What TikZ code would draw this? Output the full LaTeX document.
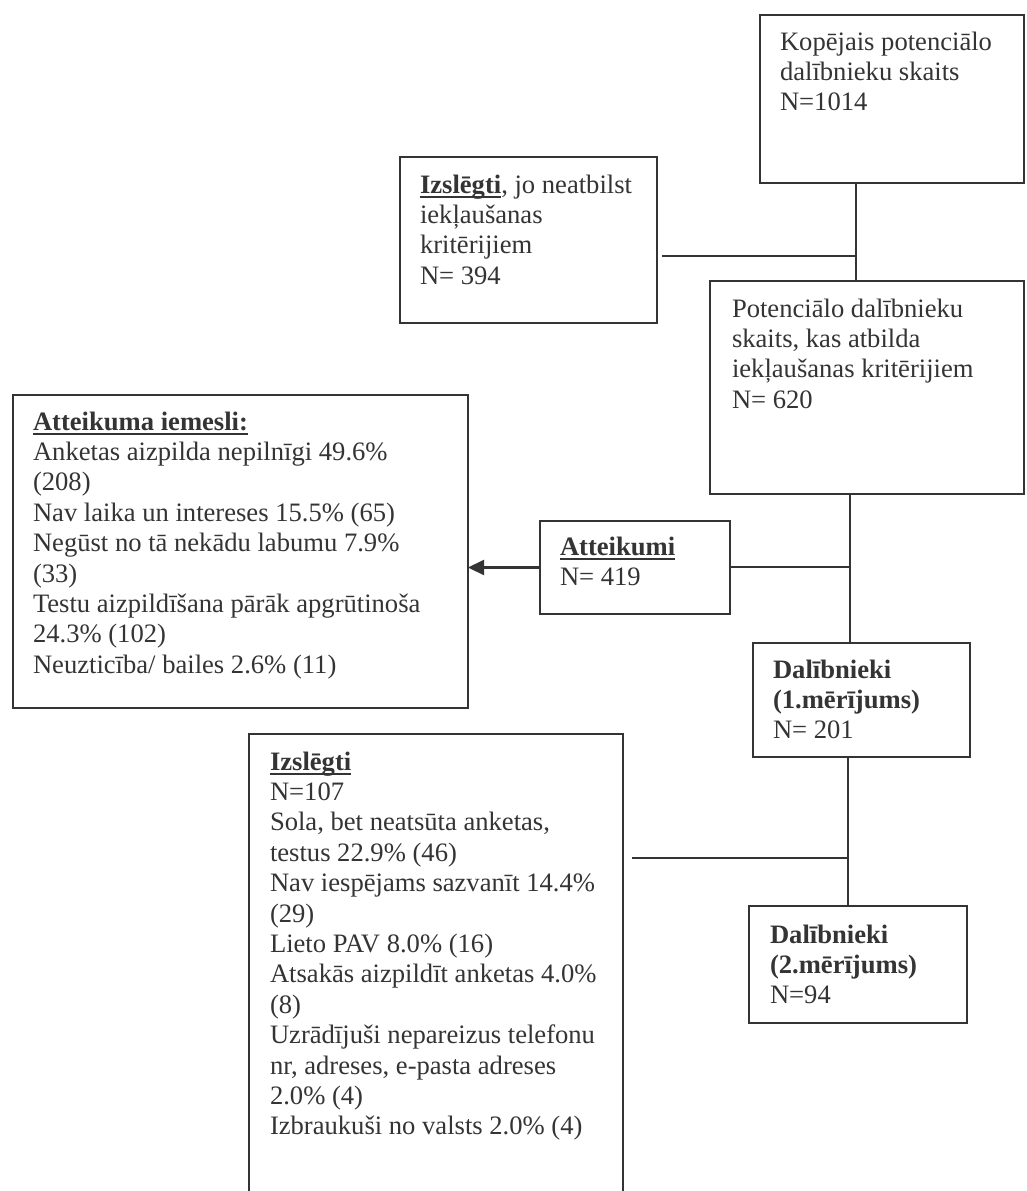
\documentclass[tikz,border=0pt]{standalone}
\usepackage{fontspec}
\setmainfont{Liberation Serif}
\usetikzlibrary{arrows.meta}
\definecolor{ink}{RGB}{52,52,52}
\newsavebox\undrbox
% underline sitting just below the baseline
\newcommand\undr[1]{\leavevmode\sbox\undrbox{#1}\rlap{\rule[-4.6pt]{\wd\undrbox}{1.8pt}}\usebox\undrbox}
% top-aligned text block, baseline = first line
\newcommand\boxtext[2]{\parbox[t]{#1}{\raggedright #2}}
\begin{document}
\begin{tikzpicture}[x=1pt,y=-1pt,
  every node/.style={inner sep=0pt, outer sep=0pt},
  frame/.style={draw=ink, line width=2.4pt, rectangle, anchor=north west},
  label/.style={anchor=base west, text=ink, font=\fontsize{26.6pt}{30.4pt}\selectfont},
  link/.style={draw=ink, line width=2.2pt},
]
\useasboundingbox (0,0) rectangle (1027,1191);
\clip (0,0) rectangle (1027,1191);
\fill[white] (0,0) rectangle (1027,1191);

% boxes
\node[frame, minimum width=264pt, minimum height=168pt] (A) at (760,15) {};
\node[frame, minimum width=257pt, minimum height=166pt] (C) at (400,157) {};
\node[frame, minimum width=314pt, minimum height=213pt] (B) at (710,281) {};
\node[frame, minimum width=455pt, minimum height=313pt] (R) at (13,395) {};
\node[frame, minimum width=190pt, minimum height=93pt]  (E) at (540,521) {};
\node[frame, minimum width=217pt, minimum height=114pt] (D) at (753,643) {};
\node[frame, minimum width=374pt, minimum height=520pt] (G) at (249,734) {};
\node[frame, minimum width=218pt, minimum height=117pt] (F) at (749,906) {};

% texts
\node[label] (Atxt) at (780,50) {\boxtext{240pt}{Kopējais potenciālo\\dalībnieku skaits\\N=1014}};
\node[label] (Ctxt) at (420,193) {\boxtext{236pt}{\undr{\textbf{Izslēgti}}, jo neatbilst\\iekļaušanas\\kritērijiem\\N= 394}};
\node[label] (Btxt) at (732,317) {\boxtext{290pt}{Potenciālo dalībnieku\\skaits, kas atbilda\\iekļaušanas kritērijiem\\N= 620}};
\node[label] (Rtxt) at (33,430) {\boxtext{432pt}{\undr{\textbf{Atteikuma iemesli:}}\\Anketas aizpilda nepilnīgi 49.6\%\\(208)\\Nav laika un intereses 15.5\% (65)\\Negūst no tā nekādu labumu 7.9\%\\(33)\\Testu aizpildīšana pārāk apgrūtinoša\\24.3\% (102)\\Neuzticība/ bailes 2.6\% (11)}};
\node[label] (Etxt) at (560,555) {\boxtext{168pt}{\undr{\textbf{Atteikumi}}\\N= 419}};
\node[label] (Dtxt) at (773,678) {\boxtext{195pt}{\textbf{Dalībnieki}\\\textbf{(1.mērījums)}\\N= 201}};
\node[label] (Gtxt) at (270,770) {\boxtext{352pt}{\undr{\textbf{Izslēgti}}\\N=107\\Sola, bet neatsūta anketas,\\testus 22.9\% (46)\\Nav iespējams sazvanīt 14.4\%\\(29)\\Lieto PAV 8.0\% (16)\\Atsakās aizpildīt anketas 4.0\%\\(8)\\Uzrādījuši nepareizus telefonu\\nr, adreses, e-pasta adreses\\2.0\% (4)\\Izbraukuši no valsts 2.0\% (4)}};
\node[label] (Ftxt) at (770,943) {\boxtext{195pt}{\textbf{Dalībnieki}\\\textbf{(2.mērījums)}\\N=94}};

% junction points on the main trunk
\coordinate (j1) at (856,256);
\coordinate (j2) at (850,567);
\coordinate (j3) at (848,858);

% connectors
\draw[link] (j1 |- A.south) -- (j1 |- B.north);
\draw[link] ([xshift=5pt]C.east |- j1) -- (j1);
\draw[link] (j2 |- B.south) -- (j2 |- D.north);
\draw[link] (E.east |- j2) -- (j2);
\draw[link, -{Triangle[length=16pt,width=15pt]}] (E.west) -- (R.east |- E.west);
\draw[link] (j3 |- D.south) -- (j3 |- F.north);
\draw[link] ([xshift=9pt]G.east |- j3) -- (j3);
\end{tikzpicture}
\end{document}
